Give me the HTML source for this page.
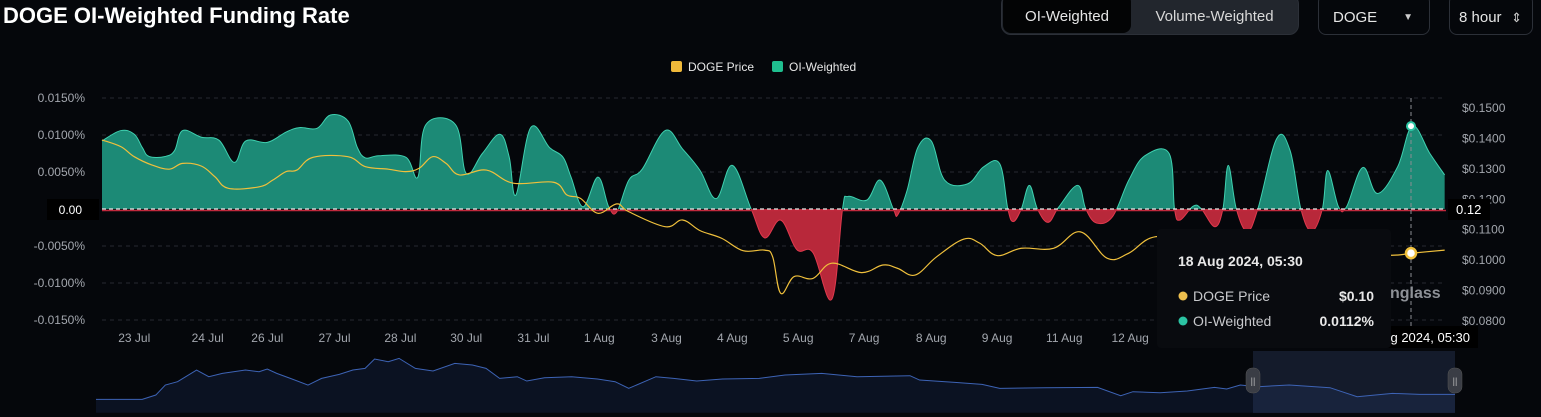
<!DOCTYPE html>
<html><head><meta charset="utf-8">
<style>
html,body{margin:0;padding:0;background:#05070b;width:1541px;height:417px;overflow:hidden;font-family:"Liberation Sans",sans-serif;}
.abs{position:absolute}
</style></head>
<body>
<div class="abs" style="left:3px;top:3px;font-size:22px;font-weight:bold;color:#fff;letter-spacing:0px">DOGE OI-Weighted Funding Rate</div>
<div class="abs" style="left:1001px;top:-6px;width:298px;height:41px;background:#22262d;border-radius:10px;border:1px solid #2c3038;box-sizing:border-box"></div>
<div class="abs" style="left:1003px;top:-6px;width:128px;height:39px;background:#030405;border-radius:8px;color:#e6e6e6;font-size:15px;line-height:45px;text-align:center">OI-Weighted</div>
<div class="abs" style="left:1132px;top:-6px;width:165px;height:39px;color:#d8d8d8;font-size:15px;line-height:45px;text-align:center">Volume-Weighted</div>
<div class="abs" style="left:1318px;top:-6px;width:112px;height:41px;border:1px solid #2c3038;border-radius:8px;box-sizing:border-box;color:#e6e6e6;font-size:15px;line-height:45px;padding-left:14px">DOGE<span style="position:absolute;right:16px;top:0;font-size:10px;color:#ccc">&#9660;</span></div>
<div class="abs" style="left:1449px;top:-6px;width:84px;height:41px;border:1px solid #2c3038;border-radius:8px;box-sizing:border-box;color:#e6e6e6;font-size:15px;line-height:45px;padding-left:9px">8 hour<span style="position:absolute;right:10px;top:0;font-size:13px;color:#ccc">&#8661;</span></div>

<svg class="abs" style="left:0;top:0" width="1541" height="417" id="chart">
<defs>
<clipPath id="above"><rect x="0" y="0" width="1541" height="209"/></clipPath>
<clipPath id="below"><rect x="0" y="209" width="1541" height="200"/></clipPath>
</defs>
<g>
<rect x="671" y="61" width="11" height="11" rx="2" fill="#f0b93a"/>
<text x="688" y="71" fill="#e8e8e8" font-size="12">DOGE Price</text>
<rect x="772" y="61" width="11" height="11" rx="2" fill="#1fbf8f"/>
<text x="789" y="71" fill="#e8e8e8" font-size="12">OI-Weighted</text>
</g>
<g id="grid"></g>
<g id="area"></g>
<g id="price"></g>
<g id="axes"></g>
<g id="nav"></g>
<g id="overlay"></g>
</svg>

<script>
const fundT=[0,1.4,2.4,3.0,3.5,4.7,5.4,6.0,7.4,8.7,9.85,10.7,12.3,13.7,14.7,16.0,17.0,18.3,19.0,19.6,20.6,22.6,23.5,24.1,26.3,27.1,28.3,29.6,30.3,30.8,31.9,33.3,34.3,34.9,35.8,36.9,37.7,38.3,39.2,40.2,41.9,43.2,44.5,45.7,46.9,48.3,49.3,50.5,51.7,52.9,54.3,55.1,55.5,56.9,57.9,58.9,59.2,59.9,60.7,61.7,62.7,64.4,65.6,66.8,67.4,67.8,68.4,69.0,69.6,70.4,71.2,72.6,73.2,74.0,75.2,76.4,77.6,79.4,79.8,80.2,81.2,81.8,82.8,83.4,83.8,84.4,85.2,86.0,87.4,88.4,89.2,90.0,90.8,91.2,92.0,92.6,93.8,94.9,96.4,97.5,98.8,99.9];
const fundVals=[0.0092,0.0106,0.0101,0.0083,0.0071,0.0071,0.0079,0.0106,0.0097,0.0093,0.0063,0.0092,0.0090,0.0104,0.0110,0.0109,0.0127,0.0119,0.0083,0.0069,0.0072,0.0070,0.0043,0.0114,0.0114,0.0048,0.0075,0.0101,0.0070,0.0019,0.0110,0.0083,0.0070,0.0043,0.0003,0.0043,0.0003,-0.0004,0.0039,0.0054,0.0106,0.0081,0.0052,0.0014,0.0059,0,-0.0039,-0.0015,-0.0055,-0.0059,-0.0122,0,0.0017,0.0012,0.0039,-0.0001,-0.0008,0.0025,0.0083,0.0092,0.0039,0.0034,0.0057,0.0061,0,-0.0017,0,0.0032,0,-0.0018,0.0003,0.0032,0,-0.0019,-0.0010,0.0039,0.0072,0.0075,0,-0.0015,0.0004,0,-0.0024,0,0.0059,0,-0.0030,0,0.0095,0.0079,0,-0.0030,0,0.0052,0.0003,0.0003,0.0056,0.0021,0.0057,0.0112,0.0075,0.0046];
const priceT=[0,1.4,2.4,3.7,5.0,6.0,7.4,8.4,9.4,11.7,12.7,13.7,14.5,15.7,18.3,19.6,21.3,22.6,23.6,24.6,25.6,26.6,28.6,30.6,33.6,34.6,35.6,36.9,38.3,39.2,41.9,43.2,44.5,46.1,47.7,49.3,49.9,50.5,51.5,52.9,54.3,56.5,58.1,59.2,60.5,62.1,64.1,65.3,66.6,68.4,70.8,72.8,74.8,76.4,78.4,82,86,90,93,96.0,97.5,99.9];
const priceVals=[0.1395,0.1373,0.1340,0.1313,0.1299,0.1318,0.1309,0.1274,0.1236,0.1241,0.1263,0.1291,0.1296,0.1338,0.1340,0.1307,0.1299,0.1291,0.1302,0.1340,0.1318,0.1280,0.1296,0.1253,0.1256,0.1214,0.1203,0.1154,0.1185,0.1159,0.1110,0.1132,0.1097,0.1072,0.1031,0.1033,0.1011,0.0891,0.0946,0.0940,0.0990,0.0959,0.0984,0.0973,0.0951,0.1011,0.1069,0.1056,0.1015,0.1039,0.1039,0.1093,0.1006,0.1023,0.1077,0.1060,0.1040,0.1030,0.1020,0.1016,0.1023,0.1033];
const leftTicks=[0.015,0.01,0.005,0,-0.005,-0.01,-0.015];
const leftTickLabels=["0.0150%","0.0100%","0.0050%","0.00","-0.0050%","-0.0100%","-0.0150%"];
const rightTicks=[0.15,0.14,0.13,0.12,0.11,0.10,0.09,0.08];
const rightTickLabels=["$0.1500","$0.1400","$0.1300","$0.1200","$0.1100","$0.1000","$0.0900","$0.0800"];
const xTickT=[2.4,7.86,12.3,17.3,22.2,27.1,32.1,37.0,42.0,46.9,51.8,56.7,61.7,66.6,71.6,76.5];
const xTickLabels=["23 Jul","24 Jul","26 Jul","27 Jul","28 Jul","30 Jul","31 Jul","1 Aug","3 Aug","4 Aug","5 Aug","7 Aug","8 Aug","9 Aug","11 Aug","12 Aug"];
const navT=[0,3.4,4.4,5.1,6.0,7.4,8.3,9.3,11.0,12.0,12.6,13.3,14.3,15.6,16.6,17.9,18.9,19.8,20.5,21.5,22.3,23.5,24.8,26.4,27.7,28.7,29.7,31.0,31.7,33.0,35.0,36.9,38.2,39.2,41.2,42.5,44.2,46.1,48.8,50.7,53.4,56.0,59.9,60.6,63.2,65.2,66.5,69.8,73.7,75.4,76.3,78.3,80.3,82.3,83.2,84.2,85.5,87.8,90.8,92.8,95.4,97.4,100];
const navLevel=[40,40,53,83,93,128,108,118,128,123,131,118,103,83,103,115,128,133,161,153,163,133,125,148,143,133,103,108,95,105,108,101,93,73,108,103,95,101,103,113,118,108,111,98,91,85,73,75,76,51,63,60,65,76,71,83,78,83,75,48,58,55,55];

const NS="http://www.w3.org/2000/svg";
const X=t=>102+t*13.44;
const YL=v=>209-v*7400;
const YR=p=>108+(0.15-p)*3043;
const NX=t=>96+t*13.59;
const NY=l=>412.7-l/3;
function mk(tag,attrs,parent){const e=document.createElementNS(NS,tag);for(const k in attrs)e.setAttribute(k,attrs[k]);parent.appendChild(e);return e;}
function smooth(pts){let d="M"+pts[0][0]+","+pts[0][1];for(let i=0;i<pts.length-1;i++){const p0=pts[i-1]||pts[i],p1=pts[i],p2=pts[i+1],p3=pts[i+2]||p2;const k=0.18;
const c1=[p1[0]+(p2[0]-p0[0])*k,p1[1]+(p2[1]-p0[1])*k],c2=[p2[0]-(p3[0]-p1[0])*k,p2[1]-(p3[1]-p1[1])*k];d+=`C${c1[0]},${c1[1]} ${c2[0]},${c2[1]} ${p2[0]},${p2[1]}`;}return d;}

const grid=document.getElementById('grid');
leftTicks.forEach((v,i)=>{const y=YL(v);
 if(v!==0){const l=mk('line',{x1:102,x2:1446,y1:y,y2:y,stroke:'#262a32','stroke-dasharray':'4,4'},grid);}
});
const axes=document.getElementById('axes');
leftTicks.forEach((v,i)=>{const y=YL(v);
 if(v===0){const r=mk('rect',{x:47,y:y-10,width:52,height:21,fill:'#000'},axes);
  const t=mk('text',{x:82,y:y+5,fill:'#fff','font-size':12,'text-anchor':'end'},axes);t.textContent=leftTickLabels[i];}
 else{const t=mk('text',{x:85,y:y+4,fill:'#a3a7ae','font-size':12,'text-anchor':'end'},axes);t.textContent=leftTickLabels[i];}
});
rightTicks.forEach((p,i)=>{const t=mk('text',{x:1462,y:YR(p)+4,fill:'#a3a7ae','font-size':12},axes);t.textContent=rightTickLabels[i];});
xTickT.forEach((tt,i)=>{const t=mk('text',{x:X(tt),y:342,fill:'#a3a7ae','font-size':12,'text-anchor':'middle'},axes);t.textContent=xTickLabels[i];});

const area=document.getElementById('area');
const fpts=fundT.map((t,i)=>[X(t),YL(fundVals[i])]);
const line=smooth(fpts);
const areaD=line+`L${X(fundT[fundT.length-1])},209L${X(0)},209Z`;
const a1=mk('path',{d:areaD,fill:'#1c8a76','clip-path':'url(#above)'},area);
const a2=mk('path',{d:areaD,fill:'#b8283a','clip-path':'url(#below)'},area);
const l1=mk('path',{d:line,fill:'none',stroke:'#3fd1b0','stroke-width':1,'clip-path':'url(#above)'},area);
const l2=mk('path',{d:line,fill:'none',stroke:'#e0394d','stroke-width':1,'clip-path':'url(#below)'},area);
const zr=mk('line',{x1:102,x2:1446,y1:210.5,y2:210.5,stroke:'#c0283c','stroke-width':1.5},area);
const zl=mk('line',{x1:102,x2:1446,y1:209,y2:209,stroke:'#e8e8e8','stroke-width':1.2,'stroke-dasharray':'4,3'},area);

const pg=document.getElementById('price');
const ppts=priceT.map((t,i)=>[X(t),YR(priceVals[i])]);
const pl=mk('path',{d:smooth(ppts),fill:'none',stroke:'#f0c03c','stroke-width':1.2},pg);

const nav=document.getElementById('nav');
const nb=mk('rect',{x:96,y:355,width:1359,height:58,fill:'#05070b'},nav);
const npts=navT.map((t,i)=>[NX(t),NY(navLevel[i])]);
let nd="M"+npts.map(p=>p[0]+","+p[1]).join("L");
const na=mk('path',{d:nd+`L${NX(100)},412.7L${NX(0)},412.7Z`,fill:'#0b1222'},nav);
const ns=mk('rect',{x:1253,y:351,width:202,height:62,fill:'rgba(60,80,130,0.28)'},nav);
const nl=mk('path',{d:nd,fill:'none',stroke:'#3d63b5','stroke-width':1},nav);
[1253,1455].forEach(x=>{const h=mk('rect',{x:x-7,y:368,width:14,height:25,rx:6,fill:'#3a3d45',stroke:'#555','stroke-width':0.5},nav);
 const g=mk('text',{x:x,y:384,fill:'#bbb','font-size':9,'text-anchor':'middle'},nav);g.textContent='||';});

const ov=document.getElementById('overlay');
const ch=mk('line',{x1:1411,x2:1411,y1:98,y2:328,stroke:'#8a8d93','stroke-dasharray':'4,3'},ov);
const wm=mk('text',{x:1390,y:298,fill:'#8d9096','font-size':16,'font-weight':'bold'},ov);wm.textContent='nglass';
const rb=mk('rect',{x:1448,y:199,width:42,height:21,fill:'#000'},ov);
const rt=mk('text',{x:1456,y:214,fill:'#fff','font-size':13},ov);rt.textContent='0.12';
const d1=mk('circle',{cx:1411,cy:YL(0.0112),r:4,fill:'#fff',stroke:'#2bc4a3','stroke-width':2},ov);
const d2=mk('circle',{cx:1411,cy:YR(0.1023),r:5,fill:'#fff',stroke:'#f0c03c','stroke-width':2.5},ov);
const xb=mk('rect',{x:1352,y:326,width:126,height:22,fill:'#000'},ov);
const xt=mk('text',{x:1470,y:342,fill:'#fff','font-size':13,'text-anchor':'end'},ov);xt.textContent='18 Aug 2024, 05:30';
const tb=mk('rect',{x:1157,y:229,width:234,height:119,rx:4,fill:'#090b0f'},ov);
const tt=mk('text',{x:1178,y:266,fill:'#e8e8e8','font-size':14,'font-weight':'bold'},ov);tt.textContent='18 Aug 2024, 05:30';
const c1=mk('circle',{cx:1183,cy:296,r:4.5,fill:'#eec04e'},ov);
const t1=mk('text',{x:1193,y:301,fill:'#c8c9cc','font-size':14},ov);t1.textContent='DOGE Price';
const v1=mk('text',{x:1374,y:301,fill:'#e8e8e8','font-size':14,'font-weight':'bold','text-anchor':'end'},ov);v1.textContent='$0.10';
const c2=mk('circle',{cx:1183,cy:321,r:4.5,fill:'#2bc4a3'},ov);
const t2=mk('text',{x:1193,y:326,fill:'#c8c9cc','font-size':14},ov);t2.textContent='OI-Weighted';
const v2=mk('text',{x:1374,y:326,fill:'#e8e8e8','font-size':14,'font-weight':'bold','text-anchor':'end'},ov);v2.textContent='0.0112%';
</script>
</body></html>
